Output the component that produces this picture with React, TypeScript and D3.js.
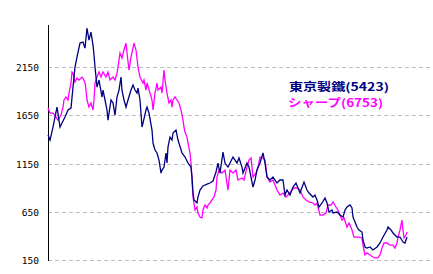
import React from "react";
import * as d3 from "d3";

// [trading-day index, price]
const tokyoSteel: [number, number][] = [
  [0,1445],[2,1393],[5,1528],[9,1735],[12,1528],[14,1569],[17,1631],[20,1704],[23,1725],[25,1942],
  [27,2150],[29,2253],[32,2398],[35,2408],[37,2346],[39,2554],[41,2429],[43,2512],[45,2377],[46,2274],
  [47,2150],[49,1942],[51,2015],[54,1839],[55,1911],[57,1808],[59,1704],[60,1600],[63,1808],[65,1777],
  [67,1652],[69,1839],[71,1911],[73,2046],[74,1911],[76,1808],[78,1735],[80,1808],[83,1911],[85,1963],
  [87,1911],[89,1880],[90,1932],[92,1808],[94,1528],[95,1569],[98,1704],[99,1735],[101,1673],[104,1497],
  [105,1362],[107,1290],[109,1259],[111,1186],[113,1051],[114,1082],[116,1113],[118,1259],[119,1155],[120,1321],
  [122,1424],[124,1393],[125,1466],[128,1497],[130,1393],[134,1259],[137,1217],[140,1155],[143,1113],[144,1010],
  [145,844],[146,772],[149,741],[150,803],[152,875],[155,917],[159,937],[162,948],[165,968],[168,1062],
  [170,1155],[172,1051],[175,1269],[177,1155],[180,1113],[185,1217],[189,1155],[191,1207],[194,1113],[195,1051],
  [199,1155],[201,1113],[205,906],[207,979],[209,1082],[212,1155],[215,1259],[217,1155],[219,1010],[222,979],
  [225,1010],[229,948],[232,979],[235,979],[237,823],[239,875],[242,823],[245,906],[248,948],[250,896],
  [252,844],[256,958],[259,875],[261,844],[265,803],[267,823],[269,772],[271,699],[274,741],[277,792],
  [279,741],[281,647],[284,668],[285,637],[289,647],[292,616],[295,595],[297,668],[299,699],[302,720],
  [304,689],[305,595],[309,492],[311,461],[314,440],[315,357],[317,285],[319,274],[322,285],[325,254],
  [329,285],[332,326],[335,388],[339,461],[340,492],[343,461],[345,430],[349,388],[352,388],[355,336],
  [357,326],[359,388],
];

const sharp: [number, number][] = [
  [0,1725],[2,1673],[5,1673],[8,1631],[10,1600],[13,1652],[15,1735],[16,1808],[18,1839],[20,1808],
  [21,1880],[23,1984],[24,2098],[25,2087],[27,1994],[29,2036],[31,2015],[34,2046],[35,2036],[37,1984],
  [38,1911],[39,1808],[41,1735],[43,1777],[45,1704],[46,1808],[47,1984],[49,2046],[51,2098],[53,2046],
  [55,2098],[58,2046],[60,2098],[62,2015],[65,2046],[67,2015],[69,2087],[70,2150],[72,2295],[74,2243],
  [76,2326],[78,2398],[79,2295],[81,2118],[83,2253],[85,2346],[86,2398],[88,2326],[90,2150],[92,2046],
  [95,1984],[96,2015],[98,1911],[99,1984],[102,1880],[104,1808],[105,1704],[107,1880],[109,1984],[110,1911],
  [113,1942],[114,1880],[116,2118],[117,2015],[119,1880],[121,1777],[123,1808],[124,1735],[125,1808],[127,1839],
  [129,1808],[131,1777],[133,1704],[135,1600],[136,1528],[137,1476],[139,1424],[140,1362],[142,1259],[143,1155],
  [144,979],[145,803],[147,668],[149,699],[150,637],[152,595],[154,585],[155,668],[157,720],[159,689],
  [160,720],[162,741],[164,772],[166,803],[168,875],[169,1010],[171,1082],[174,1051],[177,1082],[180,875],
  [182,1082],[185,1051],[188,1082],[190,979],[194,1000],[196,979],[199,1113],[201,1186],[203,1207],[205,1010],
  [208,1051],[210,1113],[212,1217],[215,1207],[217,1186],[219,1010],[222,958],[225,979],[229,875],[232,823],
  [235,844],[238,803],[240,823],[244,875],[246,896],[249,896],[252,875],[255,803],[258,772],[261,751],
  [265,741],[267,720],[269,741],[272,616],[275,616],[278,637],[280,720],[283,720],[285,751],[288,699],
  [290,668],[294,564],[296,585],[299,492],[301,533],[304,461],[306,388],[309,388],[311,388],[314,378],
  [315,305],[317,202],[319,223],[322,202],[325,181],[327,171],[330,171],[332,202],[334,274],[336,326],
  [339,326],[342,305],[345,305],[347,274],[349,326],[350,388],[352,461],[354,564],[355,461],[356,378],
  [358,409],[359,440],
];

const yTicks = [150, 650, 1150, 1650, 2150];
const seriesNames = ["東京製鐵(5423)", "シャープ(6753)"];
const seriesColors = ["#000080", "#ff00ff"];

const W = 433;
const H = 274;

export default function App() {
  const x = d3.scaleLinear().domain([0, 360]).range([48, 408]);
  const y = d3.scaleLinear().domain([150, 2150]).range([260, 67]);
  const line = d3
    .line<[number, number]>()
    .x((d) => x(d[0]))
    .y((d) => y(d[1]));
  const axisTop = y(2590);

  return (
    <svg
      width={W}
      height={H}
      style={{ position: "absolute", left: 0, top: 0, background: "#fff" }}
    >
      {yTicks.map((t) => (
        <g key={t}>
          <line
            x1={48}
            x2={W}
            y1={Math.round(y(t)) + 0.5}
            y2={Math.round(y(t)) + 0.5}
            stroke="#bdbdbd"
            strokeDasharray="4,3"
            shapeRendering="crispEdges"
          />
          <text
            x={39}
            y={Math.round(y(t)) + 0.5}
            dy="0.35em"
            textAnchor="end"
            fontFamily="DejaVu Sans Mono"
            fontSize={9.5}
            fill="#000"
          >
            {t}
          </text>
        </g>
      ))}
      <line
        x1={48.5}
        x2={48.5}
        y1={axisTop}
        y2={Math.round(y(150)) + 1}
        stroke="#000"
        strokeWidth={1.5}
        shapeRendering="crispEdges"
      />
      <path d={line(sharp) || ""} fill="none" stroke={seriesColors[1]} strokeWidth={1.3} />
      <path d={line(tokyoSteel) || ""} fill="none" stroke={seriesColors[0]} strokeWidth={1.3} />
      <text
        x={289}
        y={91}
        fontFamily="Noto Sans CJK JP"
        fontWeight="bold"
        fontSize={11}
        fill={seriesColors[0]}
        textLength={100}
        lengthAdjust="spacingAndGlyphs"
      >
        {seriesNames[0]}
      </text>
      <text
        x={288}
        y={107}
        fontFamily="Noto Sans CJK JP"
        fontWeight="bold"
        fontSize={11}
        fill={seriesColors[1]}
        textLength={95}
        lengthAdjust="spacingAndGlyphs"
      >
        {seriesNames[1]}
      </text>
    </svg>
  );
}
